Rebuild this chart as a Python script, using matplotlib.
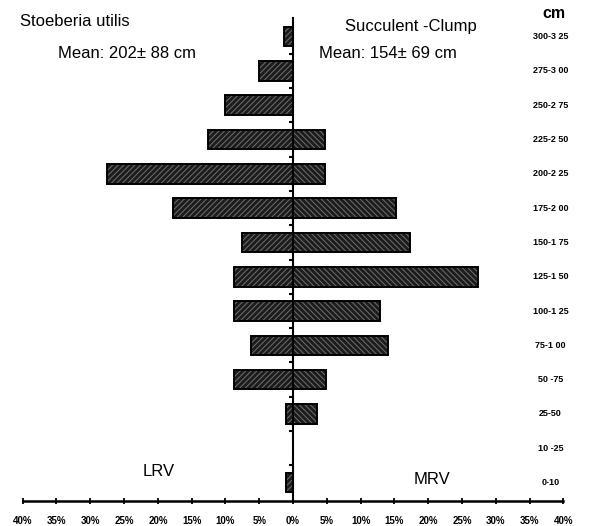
import numpy as np
import matplotlib
matplotlib.use("Agg")
import matplotlib.pyplot as plt

plt.rcParams['font.family'] = ['Liberation Sans', 'DejaVu Sans']
plt.rcParams['hatch.linewidth'] = 0.7

# Height classes (cm), bottom to top
classes = ['0-10', '10 -25', '25-50', '50 -75', '75-1 00', '100-1 25', '125-1 50',
           '150-1 75', '175-2 00', '200-2 25', '225-2 50', '250-2 75', '275-3 00', '300-3 25']

# Percentage of plants per class
lrv = [1.0, 0.0, 1.1, 8.7, 6.2, 8.7, 8.7, 7.6, 17.8, 27.6, 12.6, 10.1, 5.0, 1.3]
mrv = [0.0, 0.0, 3.6, 4.8, 14.0, 12.8, 27.3, 17.3, 15.2, 4.7, 4.7, 0.0, 0.0, 0.0]

xticks = np.arange(-40, 41, 5)

fig = plt.figure(figsize=(5.91, 5.26), dpi=100)
ax = fig.add_axes([0.0384, 0.0475, 0.915, 0.918])

y = np.arange(len(classes))
h = 0.57

# dark fill with lighter hatching, then black outline on top
ax.barh(y, [-v for v in lrv], height=h, color='#1c1c1c', edgecolor='#707070',
        hatch='//////', linewidth=0)
ax.barh(y, mrv, height=h, color='#1c1c1c', edgecolor='#707070',
        hatch='\\\\\\\\\\\\', linewidth=0)
ax.barh(y, [-v for v in lrv], height=h, fill=False, edgecolor='black', linewidth=1.4)
ax.barh(y, mrv, height=h, fill=False, edgecolor='black', linewidth=1.4)

ax.set_xlim(-40, 40)
ax.set_ylim(-0.54, 13.54)

# centre spine with small ticks between classes
ax.spines['left'].set_position(('data', 0))
ax.spines['left'].set_linewidth(1.5)
ax.spines['right'].set_visible(False)
ax.spines['top'].set_visible(False)
ax.spines['bottom'].set_linewidth(1.8)
ax.set_yticks(y[:-1] + 0.5)
ax.set_yticklabels([])
ax.tick_params(axis='y', direction='out', length=3, width=1.5)

ax.set_xticks(xticks)
ax.set_xticklabels([f'{abs(t)}%' for t in xticks], fontsize=7, fontweight='bold')
ax.tick_params(axis='x', direction='inout', length=5, width=1.3, pad=8)

# class labels down the right side
for yi, lab in zip(y, classes):
    ax.text(38.1, yi, lab, ha='center', va='center', fontsize=6.5, fontweight='bold')

fig.text(554 / 591, 1 - 13 / 526, 'cm', ha='center', va='center', fontsize=11.5, fontweight='bold')
fig.text(20 / 591, 1 - 22 / 526, 'Stoeberia utilis', ha='left', va='center', fontsize=12)
fig.text(58 / 591, 1 - 54 / 526, 'Mean: 202\u00b1 88 cm', ha='left', va='center', fontsize=12)
fig.text(345 / 591, 1 - 26 / 526, 'Succulent -Clump', ha='left', va='center', fontsize=12)
fig.text(319 / 591, 1 - 54 / 526, 'Mean: 154\u00b1 69 cm', ha='left', va='center', fontsize=12)
fig.text(143 / 591, 1 - 471 / 526, 'LRV', ha='left', va='center', fontsize=12)
fig.text(414 / 591, 1 - 480 / 526, 'MRV', ha='left', va='center', fontsize=12)

fig.savefig('out.png', dpi=100)
